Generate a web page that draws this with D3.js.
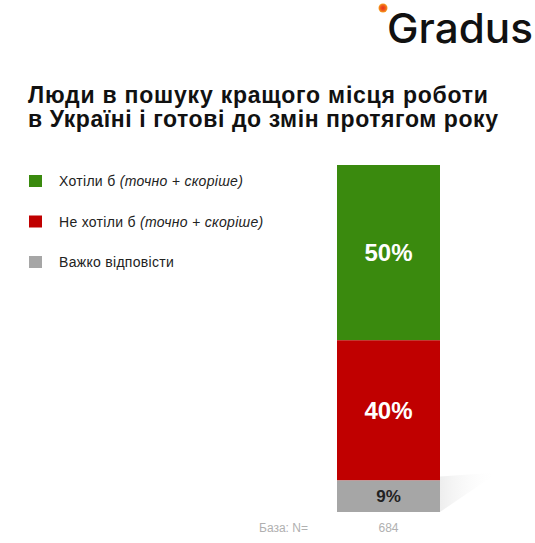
<!DOCTYPE html>
<html><head><meta charset="utf-8">
<script src="https://cdn.jsdelivr.net/npm/d3@7"></script>
<style>body{margin:0;background:#fff;}svg{display:block;font-family:"Liberation Sans",Arial,sans-serif;}</style>
</head><body>
<script>
const categories = ["Хотіли б", "Не хотіли б", "Важко відповісти"];
const categoryNotes = ["(точно + скоріше)", "(точно + скоріше)", ""];
const values = [50, 40, 9];
const valueLabels = ["50%", "40%", "9%"];
const colors = ["#3a8a0e", "#c00000", "#a6a6a6"];
const labelColors = ["#ffffff", "#ffffff", "#222222"];
const baseLabel = "База: N=";
const baseValue = "684";
const titleLines = ["Люди в пошуку кращого місця роботи", "в Україні і готові до змін протягом року"];

const W = 535, H = 543;
const svg = d3.select("body").append("svg").attr("width", W).attr("height", H);
const defs = svg.append("defs");
const rg = defs.append("radialGradient").attr("id", "dot");
rg.append("stop").attr("offset", "0%").attr("stop-color", "#e8301c");
rg.append("stop").attr("offset", "55%").attr("stop-color", "#f05a1c");
rg.append("stop").attr("offset", "100%").attr("stop-color", "#f5a020");
const sg = defs.append("linearGradient").attr("id", "shadow").attr("x1", "0").attr("y1", "0").attr("x2", "1").attr("y2", "0");
sg.append("stop").attr("offset", "0%").attr("stop-color", "#e2e2e2").attr("stop-opacity", 0.6);
sg.append("stop").attr("offset", "100%").attr("stop-color", "#ffffff").attr("stop-opacity", 0);

// logo
svg.append("circle").attr("cx", 383).attr("cy", 8).attr("r", 4.5).attr("fill", "url(#dot)");
svg.append("text").attr("x", 387).attr("y", 43).attr("font-family", "Inter, 'Noto Sans', sans-serif").attr("font-size", 41).attr("font-weight", 500).attr("fill", "#111").attr("textLength", 146).attr("lengthAdjust", "spacingAndGlyphs").text("Gradus");

// title
const titleWidths = [460, 470];
svg.selectAll("text.title").data(titleLines).join("text").attr("class", "title")
  .attr("x", 28).attr("y", (d, i) => 103 + i * 24)
  .attr("font-size", 23).attr("font-weight", "bold").attr("fill", "#111")
  .attr("textLength", (d, i) => titleWidths[i]).attr("lengthAdjust", "spacing").text(d => d);

// legend
const lg = svg.append("g");
const ly = d3.scalePoint().domain(categories).range([181, 262]);
categories.forEach((c, i) => {
  lg.append("rect").attr("x", 29).attr("y", ly(c) - 6).attr("width", 13).attr("height", 12).attr("fill", colors[i]);
  const t = lg.append("text").attr("x", 59).attr("y", ly(c) + 5).attr("font-size", 14).attr("fill", "#222").attr("letter-spacing", 0.3);
  t.append("tspan").text(c + " ");
  if (categoryNotes[i]) t.append("tspan").attr("font-style", "italic").text(categoryNotes[i]);
});

// stacked bar
const total = d3.sum(values);
const y = d3.scaleLinear().domain([0, total]).range([512, 165]);
const x = d3.scaleBand().domain(["all"]).range([337, 440]).padding(0);
const stacksTop = values.map((v, i) => {
  const below = d3.sum(values.slice(i + 1));
  return { i, v, y0: below, y1: below + v };
});
// faint shadow
svg.append("polygon")
  .attr("points", [[x("all") + x.bandwidth(), y(0)], [x("all") + x.bandwidth(), y(values[2]) - 4], [x("all") + x.bandwidth() + 58, y(values[2]) - 8]].map(p => p.join(",")).join(" "))
  .attr("fill", "url(#shadow)");
svg.selectAll("rect.bar").data(stacksTop).join("rect").attr("class", "bar")
  .attr("x", x("all")).attr("width", x.bandwidth())
  .attr("y", d => y(d.y1)).attr("height", d => y(d.y0) - y(d.y1))
  .attr("fill", d => colors[d.i]);
svg.selectAll("text.val").data(stacksTop).join("text").attr("class", "val")
  .attr("x", x("all") + x.bandwidth() / 2)
  .attr("y", d => (y(d.y0) + y(d.y1)) / 2 + (d.i === 2 ? 6 : 8.5))
  .attr("text-anchor", "middle").attr("font-weight", "bold")
  .attr("font-size", d => d.i === 2 ? 17 : 24)
  .attr("fill", d => labelColors[d.i]).text(d => valueLabels[d.i]);

// base
svg.append("text").attr("x", 259).attr("y", 532).attr("font-size", 12).attr("fill", "#b0b0b0").text(baseLabel);
svg.append("text").attr("x", x("all") + x.bandwidth() / 2).attr("y", 532).attr("text-anchor", "middle").attr("font-size", 12).attr("fill", "#b0b0b0").text(baseValue);
</script>
</body></html>
